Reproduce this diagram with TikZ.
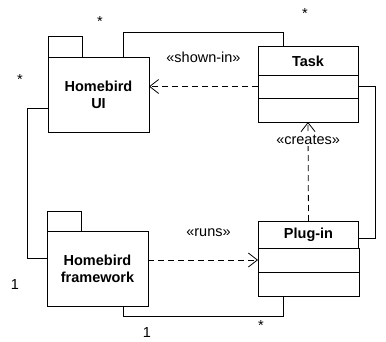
\documentclass[tikz,border=0pt]{standalone}
\usepackage{fontspec}
\setmainfont{Liberation Sans}
\usetikzlibrary{arrows.meta, positioning}

\begin{document}
\begin{tikzpicture}[x=1pt, y=1pt, every node/.style={font=\fontsize{14.5}{17}\selectfont},
  pkg/.style={draw, line width=1pt, outer sep=0pt, minimum width=101pt, minimum height=75pt, align=center, font=\fontsize{14.5}{17}\selectfont\bfseries},
  pkgtab/.style={draw, line width=1pt, outer sep=0pt, minimum width=34pt, minimum height=20pt, inner sep=0pt},
  clsname/.style={draw, line width=1pt, outer sep=0pt, minimum width=100pt, minimum height=28pt, font=\fontsize{14.5}{17}\selectfont\bfseries},
  clspart/.style={draw, line width=1pt, outer sep=0pt, minimum width=100pt, minimum height=24pt, inner sep=0pt},
  dep/.style={dashed, dash pattern=on 6pt off 4pt, line width=0.8pt, -{Straight Barb[length=9pt, width=14pt]}},
  assoc/.style={line width=0.8pt},
  mult/.style={inner sep=1pt}]
  \useasboundingbox (0,0) rectangle (386,341);
  % packages
  \node[pkg] (ui) at (98.5,246.5) {Homebird\\UI};
  \node[pkgtab, above right=0pt and 0pt of ui.north west] (uitab) {};
  \node[pkg] (fw) at (97.5,72.5) {Homebird\\framework};
  \node[pkgtab, above right=0pt and 0pt of fw.north west] (fwtab) {};
  % classes
  \node[clsname] (task) at (308,280) {Task};
  \node[clspart, minimum height=23pt, below=0pt of task] (taskmid) {};
  \node[clspart, below=0pt of taskmid] (taskbot) {};
  \node[clsname, minimum height=27pt] (plugin) at (308.5,106.5) {Plug-in};
  \node[clspart, minimum width=101pt, below=0pt of plugin] (pmid) {};
  \node[clspart, minimum width=101pt, below=0pt of pmid] (pbot) {};
  % dependencies
  \draw[dep] (taskmid.west) -- (taskmid.west -| ui.east)
    node[midway, above=20pt] (shown) {«shown-in»};
  \draw[dep] (plugin.north) -- (taskbot.south)
    node[pos=0.82, fill=white, inner sep=1pt] (creates) {«creates»};
  \draw[dep] (pmid.west -| fw.east) -- (pmid.west)
    node[pos=0.55, above=20pt] (runs) {«runs»};
  % associations
  \draw[assoc] ([xshift=-26pt]ui.north east) -- ++(0,25) -| ([xshift=-25pt]task.north);
  \draw[assoc] ([yshift=-14pt]ui.west) -- ++(-21,0) |- ([yshift=10pt]fw.west);
  \draw[assoc] ([xshift=-25pt]fw.south east) -- ++(0,-10) -| ([xshift=-25pt]pbot.south);
  \draw[assoc] (taskmid.east) -- ++(17,0) |- ([yshift=-4pt]plugin.east);
  % multiplicities
  \node[mult] (m1) at (100,319) {*};
  \node[mult] (m2) at (305,327) {*};
  \node[mult] (m3) at (20,261) {*};
  \node[mult] (m4) at (15,56) {1};
  \node[mult] (m5) at (147,8) {1};
  \node[mult] (m6) at (261,15) {*};
  \node[mult] (m7) at (389,234) {*};
  \node[mult] (m8) at (389,132) {*};
\end{tikzpicture}
\end{document}
